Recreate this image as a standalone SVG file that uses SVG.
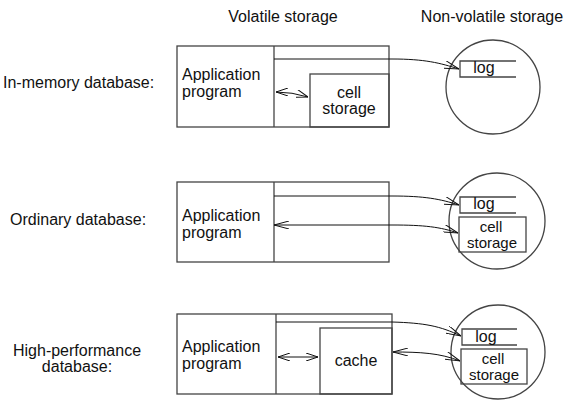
<svg xmlns="http://www.w3.org/2000/svg" width="566" height="410" viewBox="0 0 566 410">
<defs>
<style>
text{font-family:"Liberation Sans",Arial,sans-serif;font-size:16px;fill:#111}
.box{fill:none;stroke:#444;stroke-width:1.3}
.ln{fill:none;stroke:#111;stroke-width:1}
.c{text-anchor:middle}
.s{font-size:15px}
</style>
<marker id="ah" viewBox="0 0 15 8" refX="15" refY="4" markerWidth="15" markerHeight="8" markerUnits="userSpaceOnUse" orient="auto-start-reverse">
<path d="M0,0 L15,4 L0,8" fill="none" stroke="#111" stroke-width="1"/>
</marker>
<marker id="as" viewBox="0 0 12 8" refX="12" refY="4" markerWidth="12" markerHeight="8" markerUnits="userSpaceOnUse" orient="auto-start-reverse">
<path d="M0,0 L12,4 L0,8" fill="none" stroke="#111" stroke-width="1"/>
</marker>
</defs>
<rect width="566" height="410" fill="#fff"/>
<text class="c" x="283" y="22">Volatile storage</text>
<text class="c" x="492" y="22">Non-volatile storage</text>

<g id="panel1">
<text x="3" y="88">In-memory database:</text>
<rect class="box" x="177" y="46" width="212" height="81"/>
<line class="box" x1="274" y1="46" x2="274" y2="127"/>
<text x="182" y="80">Application</text>
<text x="182" y="97">program</text>
<rect class="box" x="310" y="74" width="79" height="53"/>
<text class="c" x="349" y="98">cell</text>
<text class="c" x="349" y="114">storage</text>
</g>
<g id="nv1">
<circle class="box" cx="493" cy="87" r="47"/>
<path class="box" d="M516,61 L460,61 L460,77 L516,77"/>
<text class="c" x="484" y="73">log</text>
</g>

<g id="panel2">
<text x="10" y="225">Ordinary database:</text>
<rect class="box" x="177" y="182" width="212" height="80"/>
<line class="box" x1="274" y1="182" x2="274" y2="262"/>
<text x="182" y="221">Application</text>
<text x="182" y="238">program</text>
</g>
<g id="nv2">
<circle class="box" cx="497" cy="221" r="48"/>
<path class="box" d="M516,197 L460,197 L460,213 L516,213"/>
<text class="c" x="484" y="209">log</text>
<rect class="box" x="459" y="217" width="67" height="35"/>
<text class="c s" x="491" y="232">cell</text>
<text class="c s" x="492" y="248">storage</text>
</g>

<g id="panel3">
<text class="c" x="77" y="356">High-performance</text>
<text class="c" x="77" y="372">database:</text>
<rect class="box" x="177" y="314" width="215" height="80"/>
<line class="box" x1="276" y1="314" x2="276" y2="394"/>
<text x="182" y="352">Application</text>
<text x="182" y="369">program</text>
<rect class="box" x="320" y="328" width="72" height="66"/>
<text class="c" x="356" y="366">cache</text>
</g>
<g id="nv3">
<circle class="box" cx="498" cy="352" r="47"/>
<path class="box" d="M517,329 L462,329 L462,345 L517,345"/>
<text class="c" x="486" y="342">log</text>
<rect class="box" x="461" y="349" width="66" height="35"/>
<text class="c s" x="493" y="364">cell</text>
<text class="c s" x="494" y="380">storage</text>
</g>

<g id="connectors">
<path class="ln" d="M274,59 L392,59 C425,59 440,63 459,69" marker-end="url(#ah)"/>
<path class="ln" d="M276,92 Q292,92 308,97" marker-start="url(#as)" marker-end="url(#as)"/>
<path class="ln" d="M274,196 L392,196 C425,196 440,199 459,205" marker-end="url(#ah)"/>
<path class="ln" d="M274,225 L392,225 C425,225 440,227 458,233" marker-start="url(#ah)" marker-end="url(#ah)"/>
<path class="ln" d="M276,322 L392,322 C425,323 440,326 461,336" marker-end="url(#ah)"/>
<path class="ln" d="M278,357 L318,357" marker-start="url(#as)" marker-end="url(#as)"/>
<path class="ln" d="M393,352 C420,352 440,353 460,361" marker-start="url(#ah)" marker-end="url(#ah)"/>
</g>
</svg>
